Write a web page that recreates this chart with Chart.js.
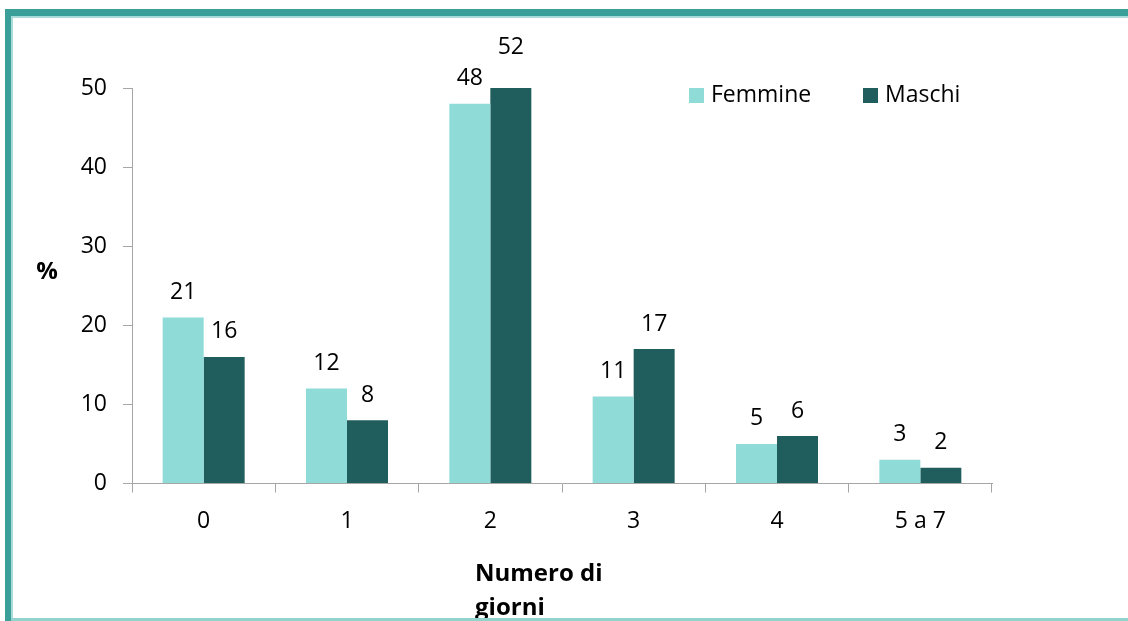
<!DOCTYPE html>
<html>
<head>
<meta charset="utf-8">
<script src="https://cdn.jsdelivr.net/npm/chart.js@4.4.0/dist/chart.umd.min.js"></script>
<style>
  html, body { margin: 0; padding: 0; background: #fff; overflow: hidden; }
  #wrap { position: relative; width: 1128px; height: 621px; }
  #myChart { position: absolute; left: 0; top: 0; }
  #bordoSu { position: absolute; left: 5px; top: 9px; width: 1123px; height: 7px; background: #3a9f99; }
  #bordoSu2 { position: absolute; left: 11px; top: 16px; width: 1117px; height: 2px; background: #a9dcd8; }
  #bordoSx { position: absolute; left: 5px; top: 9px; width: 6px; height: 612px; background: #3a9f99; }
  #bordoSx2 { position: absolute; left: 11px; top: 16px; width: 2px; height: 605px; background: #a9dcd8; }
  #bordoGiu { position: absolute; left: 11px; top: 618px; width: 1117px; height: 3px; background: #93d3cf; }
</style>
</head>
<body>
<div id="wrap">
  <canvas id="myChart" width="1128" height="621"></canvas>
  <div id="bordoSu"></div>
  <div id="bordoSu2"></div>
  <div id="bordoSx"></div>
  <div id="bordoSx2"></div>
  <div id="bordoGiu"></div>
</div>
<script>
// dati
var categorie = ['0', '1', '2', '3', '4', '5 a 7'];
var femmine = [21, 12, 48, 11, 5, 3];
var maschi = [16, 8, 52, 17, 6, 2];
var yTicks = [0, 10, 20, 30, 40, 50];

var coloreF = '#8fdbd8';
var coloreM = '#1f5e5c';
var font = 'Open Sans';

// etichette sopra le barre
var etichette = {
  id: 'etichette',
  afterDatasetsDraw: (chart) => {
    var ctx = chart.ctx;
    var y = chart.scales.y;
    ctx.save();
    ctx.font = '23px "' + font + '"';
    ctx.fillStyle = '#000';
    ctx.textAlign = 'center';
    ctx.textBaseline = 'middle';
    chart.data.datasets.forEach((ds, i) => {
      chart.getDatasetMeta(i).data.forEach((bar, j) => {
        ctx.fillText(ds.data[j], bar.x, y.getPixelForValue(ds.data[j]) - 25);
      });
    });
    ctx.restore();
  }
};

// legenda e titoli degli assi
var extra = {
  id: 'extra',
  afterDraw: (chart) => {
    var ctx = chart.ctx;
    ctx.save();
    ctx.textBaseline = 'middle';
    ctx.textAlign = 'left';
    ctx.font = '23px "' + font + '"';
    var pos = [689, 863];
    chart.data.datasets.forEach((ds, i) => {
      ctx.fillStyle = ds.backgroundColor;
      ctx.fillRect(pos[i], 88, 15, 15);
      ctx.fillStyle = '#000';
      ctx.fillText(ds.label, pos[i] + 22, 95);
    });
    ctx.font = 'bold 24px "' + font + '"';
    ctx.textAlign = 'center';
    ctx.fillText('%', 47, 272);
    ctx.textAlign = 'left';
    ctx.fillText('Numero di', 475, 574);
    ctx.fillText('giorni', 475, 608);
    ctx.restore();
  }
};

var ctx = document.getElementById('myChart').getContext('2d');
var chart = new Chart(ctx, {
  type: 'bar',
  data: {
    labels: categorie,
    datasets: [
      { label: 'Femmine', data: femmine, backgroundColor: coloreF },
      { label: 'Maschi', data: maschi, backgroundColor: coloreM }
    ]
  },
  options: {
    responsive: false,
    animation: false,
    layout: { padding: { left: 0, right: 136, top: 88, bottom: 0 } },
    datasets: { bar: { categoryPercentage: 0.572, barPercentage: 1 } },
    plugins: {
      legend: { display: false },
      tooltip: { enabled: false }
    },
    scales: {
      x: {
        afterFit: (s) => { s.height = 137.5; },
        grid: { offset: true, drawOnChartArea: false, drawTicks: true, tickLength: 9, color: '#a6a6a6' },
        border: { color: '#a6a6a6', width: 1 },
        ticks: { color: '#000', font: { family: font, size: 23 }, padding: 15 }
      },
      y: {
        min: 0,
        max: 50,
        afterFit: (s) => { s.width = 132; },
        afterBuildTicks: (s) => { s.ticks = yTicks.map(v => ({ value: v })); },
        grid: { drawOnChartArea: false, drawTicks: true, tickLength: 9, color: '#a6a6a6' },
        border: { color: '#a6a6a6', width: 1 },
        ticks: { color: '#000', font: { family: font, size: 23 }, padding: 16 }
      }
    }
  },
  plugins: [etichette, extra]
});
</script>
</body>
</html>
